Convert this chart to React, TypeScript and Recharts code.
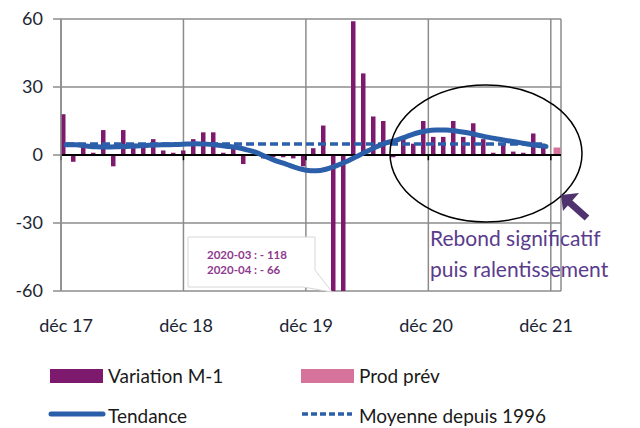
import React from 'react';
import { ComposedChart, Bar, Line, XAxis, YAxis, CartesianGrid, ReferenceLine } from 'recharts';

// ---- Data ----
const months = [
  '2017-12', '2018-01', '2018-02', '2018-03', '2018-04', '2018-05', '2018-06', '2018-07', '2018-08', '2018-09', '2018-10', '2018-11',
  '2018-12', '2019-01', '2019-02', '2019-03', '2019-04', '2019-05', '2019-06', '2019-07', '2019-08', '2019-09', '2019-10', '2019-11',
  '2019-12', '2020-01', '2020-02', '2020-03', '2020-04', '2020-05', '2020-06', '2020-07', '2020-08', '2020-09', '2020-10', '2020-11',
  '2020-12', '2021-01', '2021-02', '2021-03', '2021-04', '2021-05', '2021-06', '2021-07', '2021-08', '2021-09', '2021-10', '2021-11',
  '2021-12', '2022-01',
];

const variationM1: (number | null)[] = [
  18, -3, 4, 1, 11, -5, 11, 5, 5, 7, 2, 1,
  2, 7, 10, 10, 1, 4, -4, 0, -1.5, -1, -1, -1.5,
  -5, 3, 13, -118, -66, 59, 36, 17, 15, -1, 7, 5,
  15, 8, 8, 15, 8, 14, 7, 1, 5, 1.5, 1, 9.5,
  5, null,
];

const prodPrev: (number | null)[] = [
  null, null, null, null, null, null, null, null, null, null, null, null,
  null, null, null, null, null, null, null, null, null, null, null, null,
  null, null, null, null, null, null, null, null, null, null, null, null,
  null, null, null, null, null, null, null, null, null, null, null, null,
  null, 3.3,
];

const tendance: (number | null)[] = [
  4.5, 4.5, 4.0, 3.6, 3.5, 3.6, 3.8, 4.0, 4.2, 4.4, 4.5, 4.6,
  4.8, 5.0, 4.8, 4.4, 3.9, 3.4, 2.4, 1.2, -0.8, -2.6, -4.0, -5.6,
  -6.7, -7.0, -6.3, -4.8, -3.0, -0.8, 1.4, 3.5, 5.3, 6.5, 8.0, 9.6,
  10.6, 11.0, 11.0, 10.6, 9.9, 9.0, 8.0, 7.2, 6.4, 5.7, 5.0, 4.3,
  3.8, null,
];

const MOYENNE_1996 = 4.8;

const tickMonths = ['2017-12', '2018-12', '2019-12', '2020-12', '2021-12'];
const tickLabels = ['déc 17', 'déc 18', 'déc 19', 'déc 20', 'déc 21'];
const yTicks = [-60, -30, 0, 30, 60];
const gridIdx = [0, 12, 24, 36, 48];

const calloutLines = ['2020-03 : - 118', '2020-04 : - 66'];
const annotationLines = ['Rebond significatif', 'puis ralentissement'];

const legendItems = [
  { name: 'Variation M-1', kind: 'rect', color: '#7d1a6e' },
  { name: 'Prod prév', kind: 'rect', color: '#d5739b' },
  { name: 'Tendance', kind: 'line', color: '#2c5faa' },
  { name: 'Moyenne depuis 1996', kind: 'dash', color: '#2c5faa' },
];

const data = months.map((m, i) => ({
  m,
  v: variationM1[i],
  p: prodPrev[i],
  t: tendance[i],
}));

const FONT = "Lato, 'Open Sans', sans-serif";
const GRID = '#8c8c8c';
const PURPLE = '#7d1a6e';
const PINK = '#d5739b';
const BLUE = '#2c5faa';

const DashShape = (p: any) => (
  <line x1={p.x1} y1={p.y1} x2={p.x2} y2={p.y2} stroke={BLUE} strokeWidth={3.5} strokeDasharray="8 4" />
);

export default function App() {
  return (
    <div style={{ position: 'absolute', left: 0, top: 0, width: 640, height: 428, background: '#fff', fontFamily: FONT, overflow: 'hidden' }}>
      <ComposedChart
        width={640}
        height={428}
        data={data}
        margin={{ top: 19, right: 79, left: 0, bottom: 97 }}
        barGap={-2}
      >
        <CartesianGrid xAxisId="g" stroke={GRID} strokeWidth={1.5} horizontal={true} vertical={true} />
        <XAxis
          dataKey="m"
          ticks={tickMonths}
          tickFormatter={(v: string) => tickLabels[tickMonths.indexOf(v)] ?? ''}
          axisLine={false}
          tickLine={false}
          tickSize={0}
          tickMargin={28}
          height={40}
          tick={{ fill: '#1c2533', fontSize: 18, fontFamily: FONT }}
          interval={0}
        />
        <XAxis xAxisId="g" type="number" domain={[0, 50]} ticks={gridIdx} allowDataOverflow hide orientation="top" />
        <YAxis
          domain={[-60, 60]}
          ticks={yTicks}
          allowDataOverflow
          width={61}
          tickSize={8}
          tickMargin={10}
          axisLine={{ stroke: GRID, strokeWidth: 1.5 }}
          tickLine={{ stroke: GRID, strokeWidth: 1.5 }}
          tick={{ fill: '#1c2533', fontSize: 18, fontFamily: FONT }}
        />
        <Bar dataKey="v" fill={PURPLE} barSize={4.5} isAnimationActive={false} />
        <Bar dataKey="p" fill={PINK} barSize={7} isAnimationActive={false} />
        <ReferenceLine y={0} stroke="#000" strokeWidth={2} />
        {gridIdx.map((g) => (
          <ReferenceLine key={g} xAxisId="g" segment={[{ x: g, y: 0 }, { x: g, y: -2.3 }]} stroke="#000" strokeWidth={1.5} />
        ))}
        <ReferenceLine
          segment={[{ x: months[0], y: MOYENNE_1996 }, { x: months[48], y: MOYENNE_1996 }]}
          stroke={BLUE}
          shape={DashShape}
        />
        <Line dataKey="t" type="monotone" stroke={BLUE} strokeWidth={5} dot={false} strokeLinecap="round" isAnimationActive={false} />
      </ComposedChart>

      <svg width={640} height={428} style={{ position: 'absolute', left: 0, top: 0, pointerEvents: 'none' }}>
        {/* callout */}
        <path d="M188,237 H315 V270 L332,292 L303,287 H188 Z" fill="#fff" stroke="#d6d6d6" strokeWidth={1} />
        {calloutLines.map((t, i) => (
          <text key={t} x={207} y={259 + i * 15} fontSize={11.5} fontWeight="bold" fill="#8e3a8e" fontFamily={FONT}>{t}</text>
        ))}
        {/* ellipse */}
        <ellipse cx={486} cy={153.5} rx={96} ry={68.5} fill="none" stroke="#000" strokeWidth={1.5} />
        {/* arrow */}
        <line x1={587} y1={218} x2={569} y2={202} stroke="#50336e" strokeWidth={7} />
        <polygon points="561,195 579,193 563,211" fill="#50336e" />
        {annotationLines.map((t, i) => (
          <text key={t} x={430} y={246 + i * 31} fontSize={21} fill="#5a3b8c" fontFamily={FONT}>{t}</text>
        ))}
        {/* legend */}
        {legendItems.map((it, i) => {
          const col = i % 2;
          const row = Math.floor(i / 2);
          const x0 = col === 0 ? 49 : 300;
          const yMid = row === 0 ? 376 : 414;
          const textY = row === 0 ? 383 : 423;
          return (
            <g key={it.name}>
              {it.kind === 'rect' && <rect x={x0 + 1} y={yMid - 7} width={53} height={14} fill={it.color} />}
              {it.kind === 'line' && <line x1={x0 + 2} y1={yMid} x2={x0 + 54} y2={yMid} stroke={it.color} strokeWidth={5} strokeLinecap="round" />}
              {it.kind === 'dash' && <line x1={x0 + 2} y1={yMid} x2={x0 + 52} y2={yMid} stroke={it.color} strokeWidth={3.5} strokeDasharray="6 3" />}
              <text x={x0 + 59} y={textY} fontSize={19} fill="#1a1a1a" fontFamily={FONT}>{it.name}</text>
            </g>
          );
        })}
      </svg>
    </div>
  );
}
